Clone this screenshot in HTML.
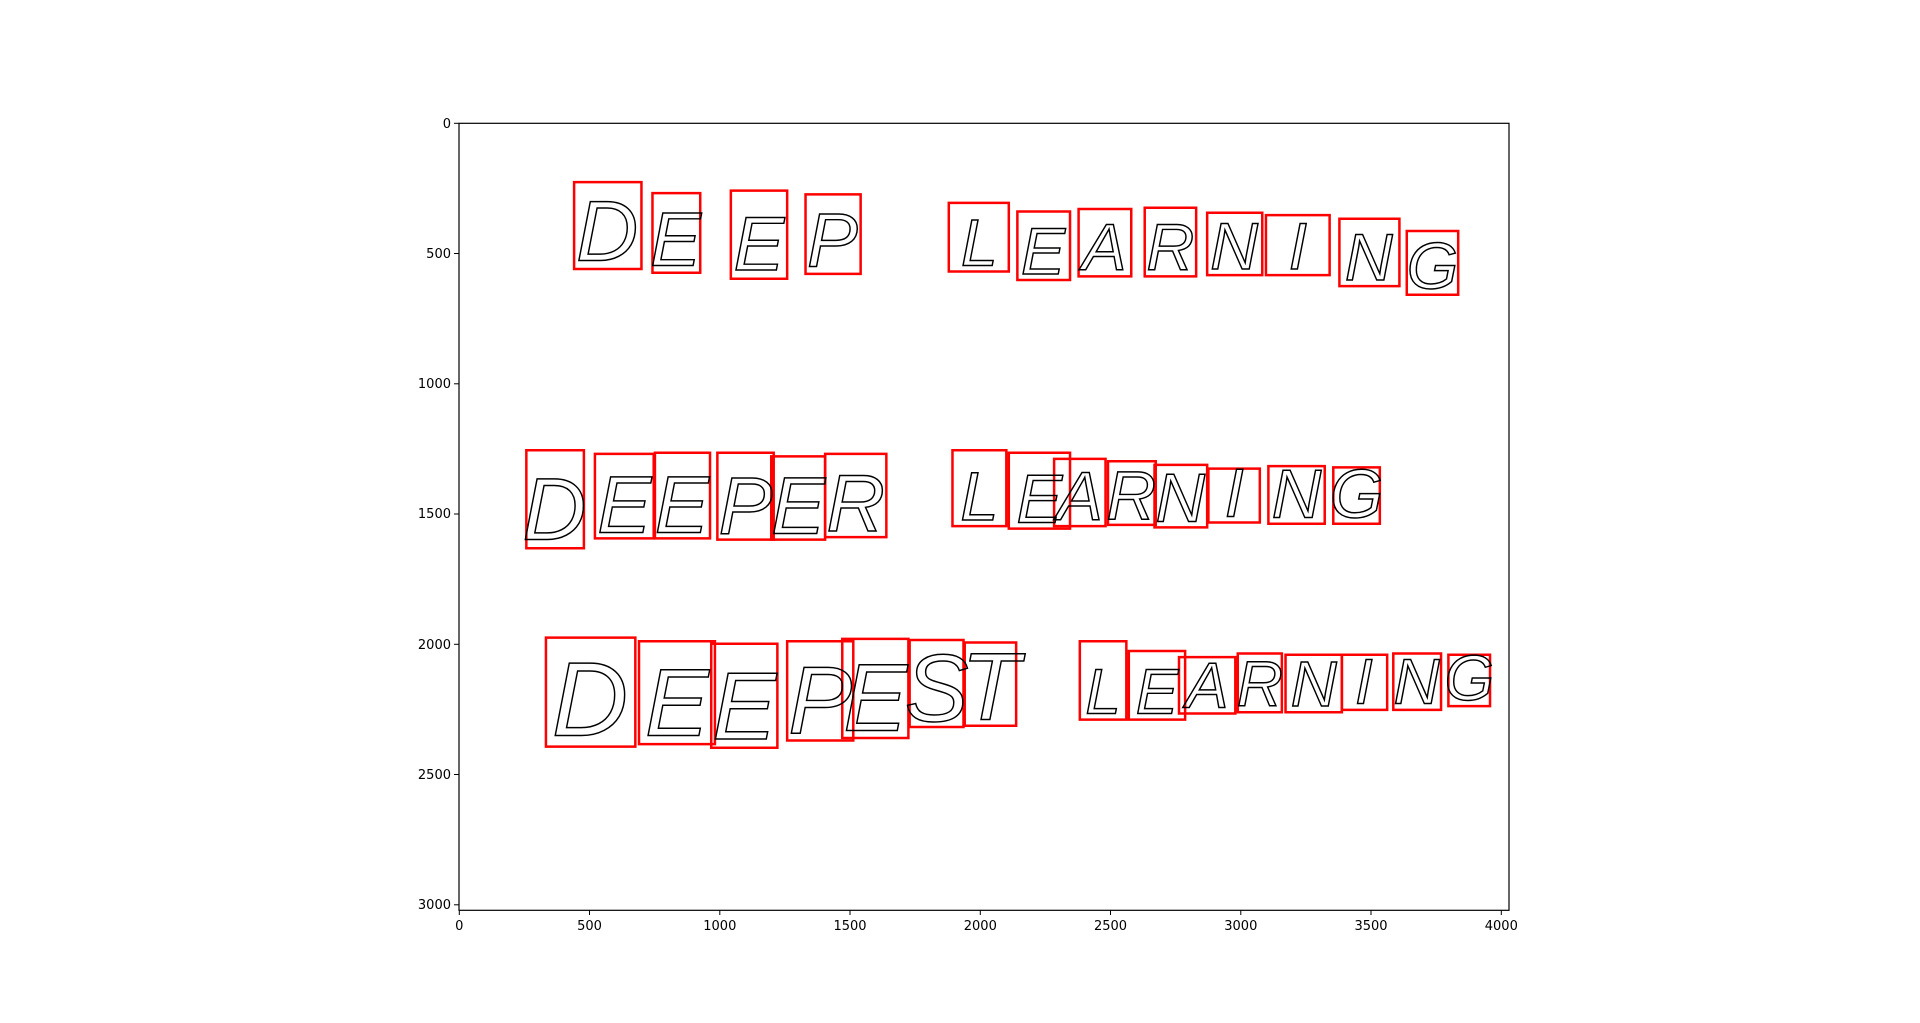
<!DOCTYPE html>
<html><head><meta charset="utf-8"><style>
html,body{margin:0;padding:0;background:#fff;width:1920px;height:1023px;overflow:hidden}
svg{display:block}
.t{font-family:"DejaVu Sans","Liberation Sans",sans-serif;font-size:13px;fill:#000}
</style></head><body>
<svg width="1920" height="1023" viewBox="0 0 1920 1023">
<rect x="459" y="123.3" width="1050" height="787" fill="#fff" stroke="#000" stroke-width="1.2"/>
<g stroke="#000" stroke-width="1">
<line x1="459" y1="123.3" x2="454" y2="123.3"/><line x1="459" y1="253.5" x2="454" y2="253.5"/><line x1="459" y1="383.8" x2="454" y2="383.8"/><line x1="459" y1="514" x2="454" y2="514"/><line x1="459" y1="644.3" x2="454" y2="644.3"/><line x1="459" y1="774.5" x2="454" y2="774.5"/><line x1="459" y1="904.8" x2="454" y2="904.8"/>
<line x1="459.3" y1="910" x2="459.3" y2="915"/><line x1="589.5" y1="910" x2="589.5" y2="915"/><line x1="719.8" y1="910" x2="719.8" y2="915"/><line x1="850" y1="910" x2="850" y2="915"/><line x1="980.3" y1="910" x2="980.3" y2="915"/><line x1="1110.5" y1="910" x2="1110.5" y2="915"/><line x1="1240.8" y1="910" x2="1240.8" y2="915"/><line x1="1371" y1="910" x2="1371" y2="915"/><line x1="1501.3" y1="910" x2="1501.3" y2="915"/>
</g>
<g class="t" text-anchor="end">
<text x="451" y="128">0</text><text x="451" y="258">500</text><text x="451" y="388">1000</text><text x="451" y="518">1500</text><text x="451" y="649">2000</text><text x="451" y="779">2500</text><text x="451" y="909">3000</text>
</g>
<g class="t" text-anchor="middle">
<text x="459.3" y="930">0</text><text x="589.5" y="930">500</text><text x="719.8" y="930">1000</text><text x="850" y="930">1500</text><text x="980.3" y="930">2000</text><text x="1110.5" y="930">2500</text><text x="1240.8" y="930">3000</text><text x="1371" y="930">3500</text><text x="1501.3" y="930">4000</text>
</g>
<g transform="translate(459,123.3) scale(1.2245) translate(-375,-100)">
<g fill="none" stroke="#f00" stroke-width="2.5">
<rect x="469" y="148" width="55" height="71" vector-effect="non-scaling-stroke"/>
<rect x="533" y="157" width="39" height="65" vector-effect="non-scaling-stroke"/>
<rect x="597" y="155" width="46" height="72" vector-effect="non-scaling-stroke"/>
<rect x="658" y="158" width="45" height="65" vector-effect="non-scaling-stroke"/>
<rect x="775" y="165" width="49" height="56" vector-effect="non-scaling-stroke"/>
<rect x="831" y="172" width="43" height="56" vector-effect="non-scaling-stroke"/>
<rect x="881" y="170" width="43" height="55" vector-effect="non-scaling-stroke"/>
<rect x="935" y="169" width="42" height="56" vector-effect="non-scaling-stroke"/>
<rect x="986" y="173" width="45" height="51" vector-effect="non-scaling-stroke"/>
<rect x="1034" y="175" width="52" height="49" vector-effect="non-scaling-stroke"/>
<rect x="1094" y="178" width="49" height="55" vector-effect="non-scaling-stroke"/>
<rect x="1149" y="188" width="42" height="52" vector-effect="non-scaling-stroke"/>
<rect x="430" y="367" width="47" height="80" vector-effect="non-scaling-stroke"/>
<rect x="486" y="370" width="48" height="69" vector-effect="non-scaling-stroke"/>
<rect x="535" y="369" width="45" height="70" vector-effect="non-scaling-stroke"/>
<rect x="586" y="369" width="46" height="71" vector-effect="non-scaling-stroke"/>
<rect x="630" y="372" width="44" height="68" vector-effect="non-scaling-stroke"/>
<rect x="674" y="370" width="50" height="68" vector-effect="non-scaling-stroke"/>
<rect x="778" y="367" width="44" height="62" vector-effect="non-scaling-stroke"/>
<rect x="824" y="369" width="50" height="62" vector-effect="non-scaling-stroke"/>
<rect x="861" y="374" width="42" height="55" vector-effect="non-scaling-stroke"/>
<rect x="905" y="376" width="39" height="52" vector-effect="non-scaling-stroke"/>
<rect x="943" y="379" width="43" height="51" vector-effect="non-scaling-stroke"/>
<rect x="987" y="382" width="42" height="44" vector-effect="non-scaling-stroke"/>
<rect x="1036" y="380" width="46" height="47" vector-effect="non-scaling-stroke"/>
<rect x="1089" y="381" width="38" height="46" vector-effect="non-scaling-stroke"/>
<rect x="446" y="520" width="73" height="89" vector-effect="non-scaling-stroke"/>
<rect x="522" y="523" width="62" height="84" vector-effect="non-scaling-stroke"/>
<rect x="581" y="525" width="54" height="85" vector-effect="non-scaling-stroke"/>
<rect x="643" y="523" width="54" height="81" vector-effect="non-scaling-stroke"/>
<rect x="688" y="521" width="54" height="81" vector-effect="non-scaling-stroke"/>
<rect x="743" y="522" width="44" height="71" vector-effect="non-scaling-stroke"/>
<rect x="788" y="524" width="42" height="68" vector-effect="non-scaling-stroke"/>
<rect x="882" y="523" width="38" height="64" vector-effect="non-scaling-stroke"/>
<rect x="922" y="531" width="46" height="56" vector-effect="non-scaling-stroke"/>
<rect x="963" y="536" width="46" height="46" vector-effect="non-scaling-stroke"/>
<rect x="1011" y="533" width="36" height="48" vector-effect="non-scaling-stroke"/>
<rect x="1050" y="534" width="46" height="47" vector-effect="non-scaling-stroke"/>
<rect x="1096" y="534" width="37" height="45" vector-effect="non-scaling-stroke"/>
<rect x="1138" y="533" width="39" height="46" vector-effect="non-scaling-stroke"/>
<rect x="1183" y="534" width="34" height="42" vector-effect="non-scaling-stroke"/>
</g>
<g font-family="Liberation Sans, sans-serif" fill="none" stroke="#000" stroke-width="1.2" text-anchor="middle" font-style="italic">
<g font-size="70"><text x="496" y="212">D</text></g>
<g font-size="62"><text x="552" y="216">E</text><text x="620" y="220">E</text><text x="680" y="217">P</text></g>
<g font-size="54"><text x="800" y="216">L</text><text x="852" y="223">E</text><text x="902" y="220">A</text><text x="956" y="220">R</text><text x="1008" y="219">N</text><text x="1060" y="219">I</text><text x="1118" y="228">N</text><text x="1170" y="235">G</text></g>
<g font-size="72"><text x="453" y="440">D</text></g>
<g font-size="66"><text x="510" y="434">E</text><text x="557" y="434">E</text><text x="609" y="435">P</text><text x="652" y="435">E</text><text x="699" y="433">R</text></g>
<g font-size="56"><text x="800" y="424">L</text><text x="849" y="426">E</text><text x="882" y="424">A</text><text x="924" y="423">R</text><text x="964" y="425">N</text><text x="1008" y="421">I</text><text x="1059" y="422">N</text><text x="1108" y="422">G</text></g>
<g font-size="86"><text x="482" y="600">D</text></g>
<g font-size="78"><text x="553" y="600">E</text><text x="608" y="603">E</text><text x="670" y="598">P</text><text x="715" y="596">E</text><text x="765" y="588">S</text><text x="809" y="587">T</text></g>
<g font-size="52"><text x="901" y="582">L</text><text x="945" y="582">E</text><text x="986" y="577">A</text><text x="1029" y="576">R</text><text x="1073" y="576">N</text><text x="1114" y="574">I</text><text x="1157" y="574">N</text><text x="1200" y="571">G</text></g>
</g>
</g>
</svg>
</body></html>
